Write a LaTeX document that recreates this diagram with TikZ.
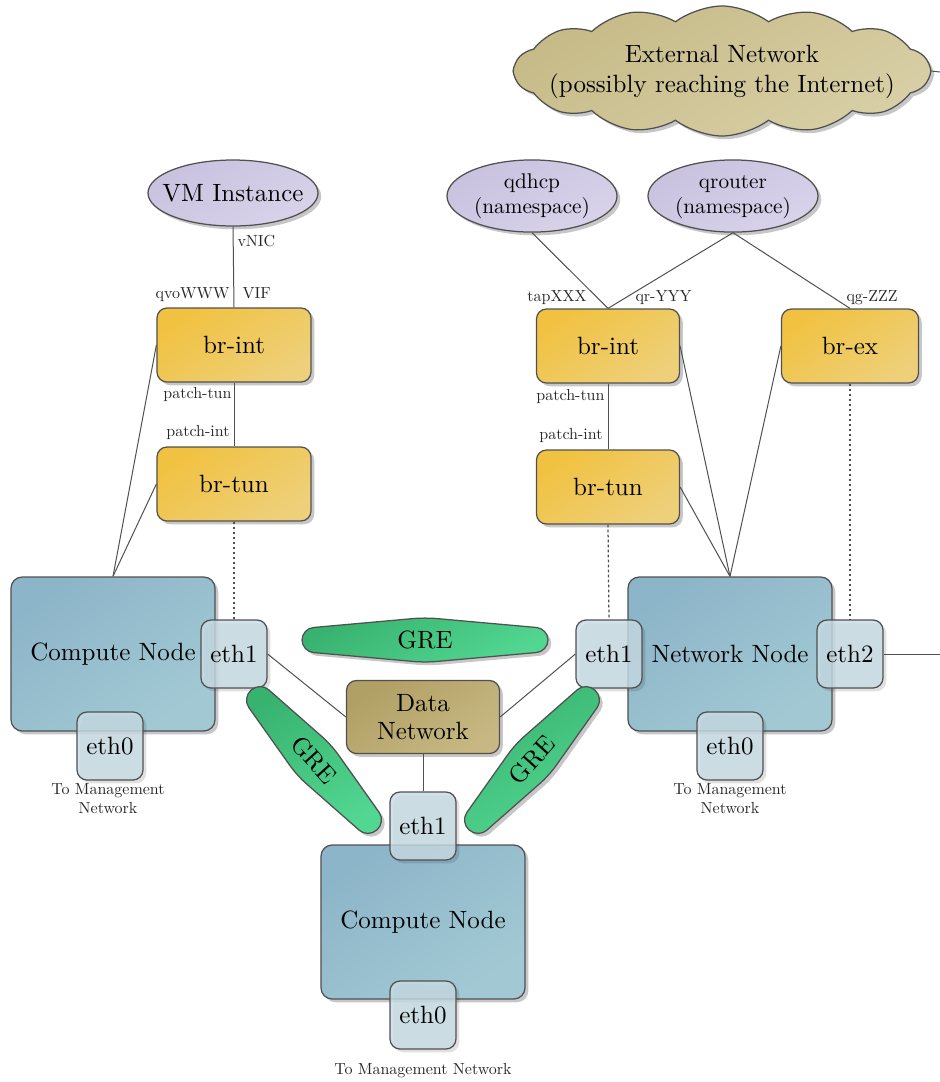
\documentclass[tikz,border=0pt]{standalone}
\usetikzlibrary{shapes.geometric,shapes.symbols,shadows}

\definecolor{edge}{HTML}{505050}
\definecolor{brA}{HTML}{F1C241}
\definecolor{brB}{HTML}{EED07A}
\definecolor{hostA}{HTML}{8DB5C9}
\definecolor{hostB}{HTML}{A2C9D3}
\definecolor{portC}{HTML}{C8DCE5}
\definecolor{dataA}{HTML}{B1A065}
\definecolor{dataB}{HTML}{C7B883}
\definecolor{greA}{HTML}{38B36F}
\definecolor{greB}{HTML}{52D792}
\definecolor{nsA}{HTML}{C8C2DF}
\definecolor{nsB}{HTML}{D8D3EA}
\definecolor{cloudA}{HTML}{C6BA87}
\definecolor{cloudB}{HTML}{D8CFA6}

% text set in the 10pt design and scaled down
\newcommand\smalltext[2]{\scalebox{#1}{\begin{tabular}{@{}c@{}}#2\end{tabular}}}

\begin{document}
\begin{tikzpicture}[x=0.4pt,y=-0.4pt,
  shd/.style={drop shadow={shadow xshift=1.3pt,shadow yshift=-1.3pt,opacity=0.22,fill=black}},
  base/.style={draw=edge,line width=0.5pt,shd},
  bridge/.style={base,rounded corners=4pt,top color=brA,bottom color=brB,shading angle=35,
    minimum height=29.6pt,inner sep=0pt},
  host/.style={base,rounded corners=4.5pt,top color=hostA,bottom color=hostB,shading angle=35,
    minimum width=81.6pt,minimum height=61.6pt,inner sep=0pt},
  port/.style={draw=edge,line width=0.5pt,rounded corners=4pt,fill=portC,fill opacity=0.82,
    text opacity=1,minimum width=26.4pt,minimum height=27.2pt,inner sep=0pt,
    drop shadow={shadow xshift=1.3pt,shadow yshift=-1.3pt,opacity=0.12,fill=black}},
  ns/.style={base,ellipse,top color=nsA,bottom color=nsB,shading angle=30,
    inner xsep=-6pt,inner ysep=0pt,minimum width=68pt,minimum height=26.4pt,align=center},
  datanet/.style={base,rounded corners=4pt,top color=dataA,bottom color=dataB,shading angle=35,
    minimum width=61.2pt,minimum height=29.2pt,inner sep=0pt,align=center,
    font=\fontsize{10}{11.2}\selectfont},
  gre/.style={draw=edge,line width=0.5pt,rounded corners=4.6pt,top color=greA,bottom color=greB,
    shading angle=30,shd},
  gretext/.style={inner sep=0pt},
  lbl/.style={inner sep=0pt,text=black!85},
  conn/.style={draw=edge,line width=0.4pt},
  dotl/.style={draw=edge,line width=0.5pt,dash pattern=on 1.1pt off 0.9pt},
]
\useasboundingbox (0,0) rectangle (940,1082);

% ---- external network cloud
\node[base,cloud,cloud puffs=14,cloud puff arc=75,aspect=3.3,
      minimum width=166pt,minimum height=52pt,top color=cloudA,bottom color=cloudB,
      shading angle=30] (ext) at (722,71) {};
\node[inner sep=0pt,align=center,font=\fontsize{10}{12}\selectfont] (extlabel) at (722,72)
  {External Network\\(possibly reaching the Internet)};

% ---- namespaces and the VM
\node[ns] (vm) at (233,193) {VM Instance};
\node[ns] (dhcp) at (532,196) {\smalltext{0.85}{qdhcp\\(namespace)}};
\node[ns] (router) at (733,196) {\smalltext{0.85}{qrouter\\(namespace)}};

% ---- OVS bridges
\node[bridge,minimum width=61.6pt] (lint) at (234,345) {br-int};
\node[bridge,minimum width=61.6pt] (ltun) at (234,484) {br-tun};
\node[bridge,minimum width=57.2pt] (rint) at (608,346) {br-int};
\node[bridge,minimum width=57.2pt] (rtun) at (608,487) {br-tun};
\node[bridge,minimum width=54.8pt] (brex) at (850,346) {br-ex};

% ---- hosts
\node[host] (lcomp) at (113,654) {Compute Node};
\node[host] (net) at (730,654) {Network Node};
\node[host] (bcomp) at (423,922) {Compute Node};

% ---- data network
\node[datanet] (data) at (423,717) {Data\\Network};

% ---- interfaces
\node[port] (leth1) at (234,654) {eth1};
\node[port] (leth0) at (110,746) {eth0};
\node[port] (reth1) at (609,654) {eth1};
\node[port] (eth2)  at (850,654) {eth2};
\node[port] (neth0) at (730,746) {eth0};
\node[port] (beth1) at (423,826) {eth1};
\node[port] (beth0) at (423,1015) {eth0};

% ---- GRE tunnels
\begin{scope}[shift={(425,640)}]
  \path[gre] (0,-22.5) -- (123,-11.5) -- (123,11.5) -- (0,22.5) -- (-123,11.5) -- (-123,-11.5) -- cycle;
  \node[gretext] (greTop) at (0,0) {GRE};
\end{scope}
\begin{scope}[shift={(314,760)},rotate=-48]
  \path[gre] (0,-23) -- (94,-12) -- (94,12) -- (0,23) -- (-94,12) -- (-94,-12) -- cycle;
  \node[gretext,rotate=-48] (greLeft) at (0,0) {GRE};
\end{scope}
\begin{scope}[shift={(532,760)},rotate=48]
  \path[gre] (0,-23) -- (94,-12) -- (94,12) -- (0,23) -- (-94,12) -- (-94,-12) -- cycle;
  \node[gretext,rotate=48] (greRight) at (0,0) {GRE};
\end{scope}

% ---- open ends
\coordinate (extR) at (940,654);
\coordinate (extL) at (940,72);

% ---- connectors
\draw[conn] (vm.south) -- (lint.north);
\draw[conn] (lint.south) -- (ltun.north);
\draw[conn] (lint.west) -- (lcomp.north);
\draw[conn] (ltun.west) -- (lcomp.north);
\draw[dotl] (ltun.south) -- (leth1.north);
\draw[conn] (leth1.east) -- (data.west);
\draw[conn] (reth1.west) -- (data.east);
\draw[conn] (data.south) -- (beth1.north);
\draw[conn] (dhcp.south) -- (rint.north);
\draw[conn] (router.south) -- (rint.north);
\draw[conn] (router.south) -- (brex.north);
\draw[conn] (rint.south) -- (rtun.north);
\draw[conn] (rint.east) -- (net.north);
\draw[conn] (rtun.east) -- (net.north);
\draw[conn] (brex.west) -- (net.north);
\draw[dotl] (rtun.south) -- (reth1.north);
\draw[dotl] (brex.south) -- (eth2.north);
\draw[conn] (eth2.east) -- (extR);
\draw[conn] (ext.east) -- (extL);

% ---- port labels
\node[lbl,anchor=west] (vnic) at (237,243) {\smalltext{0.64}{vNIC}};
\node[lbl,anchor=east] (qvo) at (230,295) {\smalltext{0.64}{qvoWWW}};
\node[lbl,anchor=west] (vif) at (242,295) {\smalltext{0.64}{VIF}};
\node[lbl,anchor=east] (lptun) at (232,395) {\smalltext{0.64}{patch-tun}};
\node[lbl,anchor=east] (lpint) at (230,433) {\smalltext{0.64}{patch-int}};
\node[lbl,anchor=east] (tap) at (587,298) {\smalltext{0.64}{tapXXX}};
\node[lbl,anchor=west] (qr) at (635,298) {\smalltext{0.64}{qr-YYY}};
\node[lbl,anchor=west] (qg) at (846,298) {\smalltext{0.64}{qg-ZZZ}};
\node[lbl,anchor=east] (rptun) at (605,397) {\smalltext{0.64}{patch-tun}};
\node[lbl,anchor=east] (rpint) at (603,436) {\smalltext{0.64}{patch-int}};

% ---- management network notes
\node[lbl] (mgmt1) at (108,800) {\smalltext{0.64}{To Management\\Network}};
\node[lbl] (mgmt2) at (730,800) {\smalltext{0.64}{To Management\\Network}};
\node[lbl] (mgmt3) at (423,1071) {\smalltext{0.64}{To Management Network}};
\end{tikzpicture}
\end{document}
